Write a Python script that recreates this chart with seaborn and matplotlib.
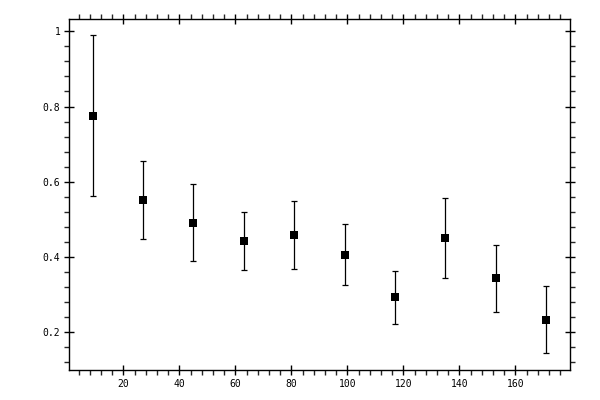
import matplotlib
matplotlib.use("Agg")
import matplotlib.pyplot as plt
import numpy as np
import pandas as pd
import seaborn as sns
from matplotlib.ticker import MultipleLocator

# %% Data

bin_centers = [9, 27, 45, 63, 81, 99, 117, 135, 153, 171]
values = [0.774, 0.551, 0.490, 0.443, 0.458, 0.405, 0.294, 0.451, 0.344, 0.233]
upper = [0.990, 0.655, 0.594, 0.521, 0.549, 0.488, 0.363, 0.557, 0.432, 0.323]
lower = [0.562, 0.448, 0.389, 0.366, 0.368, 0.326, 0.222, 0.344, 0.254, 0.145]

df = pd.DataFrame({"x": bin_centers, "y": values, "hi": upper, "lo": lower})

# %% Plot

sns.set_style("ticks")
plt.rcParams["font.family"] = ["DejaVu Sans Mono"]

fig = plt.figure(figsize=(6, 4), dpi=100)
ax = fig.add_axes([0.1155, 0.075, 0.835, 0.877])

yerr = np.array([df["y"] - df["lo"], df["hi"] - df["y"]])
ax.errorbar(df["x"], df["y"], yerr=yerr, fmt="none", ecolor="black",
            elinewidth=0.9, capsize=2.5, capthick=0.9, zorder=2)
sns.scatterplot(data=df, x="x", y="y", marker="s", color="black", s=36,
                linewidth=0, ax=ax, zorder=3)

ax.set_xlim(0.7, 179.6)
ax.set_ylim(0.1, 1.032)
ax.xaxis.set_minor_locator(MultipleLocator(4))
ax.yaxis.set_minor_locator(MultipleLocator(0.04))
ax.set_xticks(np.arange(20, 180, 20))
ax.set_xticklabels([str(v) for v in range(20, 180, 20)])
ax.set_yticks([0.2, 0.4, 0.6, 0.8, 1.0])
ax.set_yticklabels(["0.2", "0.4", "0.6", "0.8", "1"])

ax.set_xlabel("")
ax.set_ylabel("")
for side in ["top", "right", "left", "bottom"]:
    ax.spines[side].set_visible(True)
    ax.spines[side].set_linewidth(1.0)
    ax.spines[side].set_color("black")

ax.tick_params(which="major", direction="inout", length=7, width=1.0,
               top=True, right=True, labelsize=7, pad=3, colors="black")
ax.tick_params(which="minor", direction="out", length=3.5, width=1.0,
               top=True, right=True)

fig.savefig("out.png", dpi=100)
